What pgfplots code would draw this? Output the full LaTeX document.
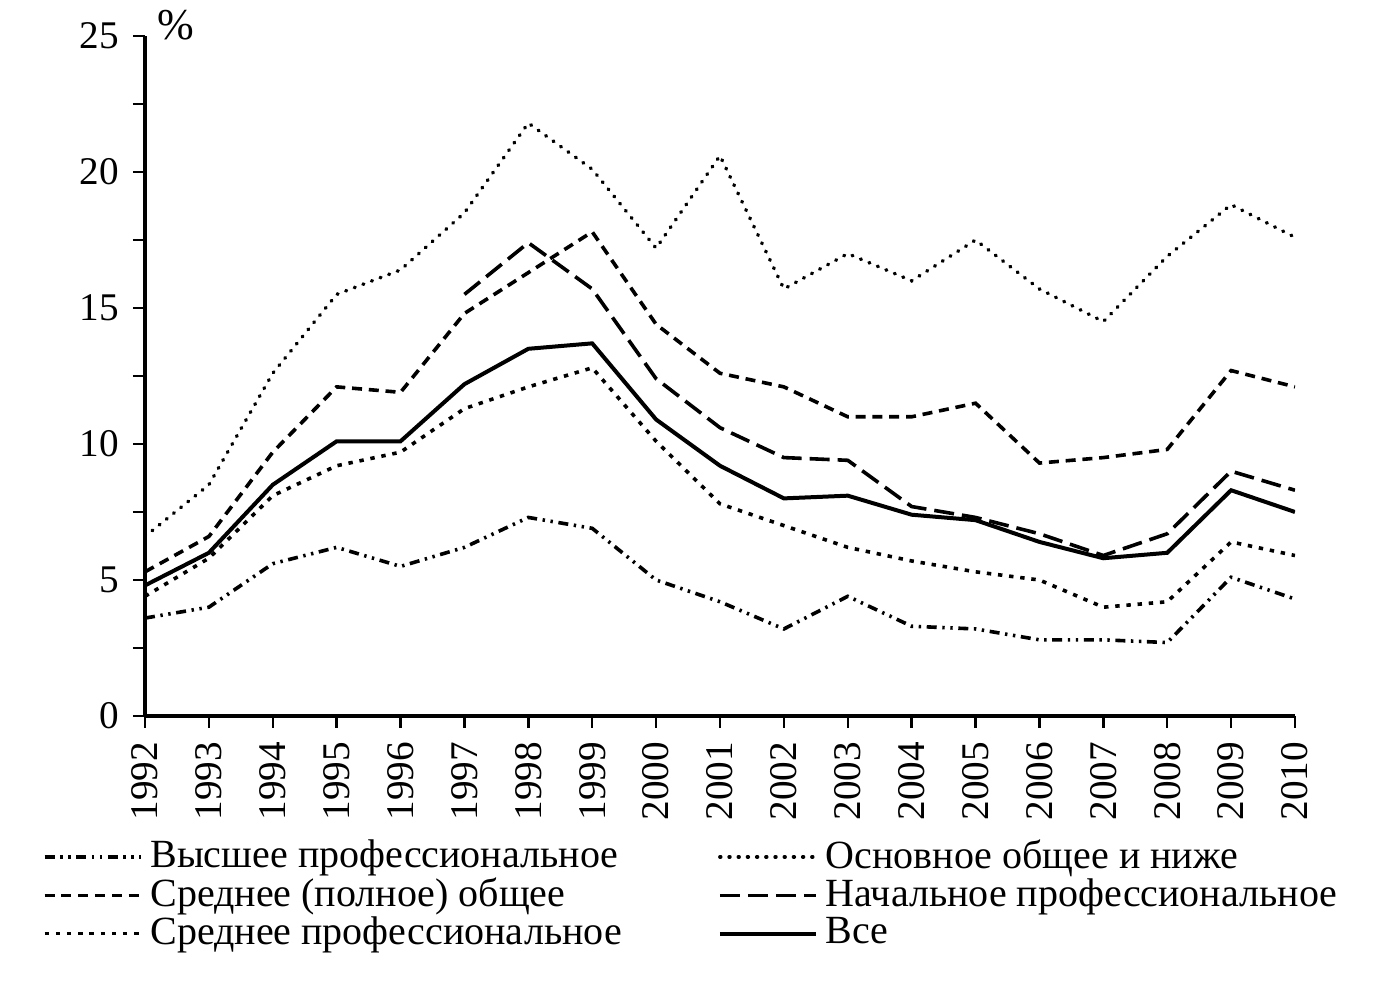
\documentclass[border=0pt]{standalone}
\usepackage{pgfplots}
\pgfplotsset{compat=1.18}
\usepackage{pgfplotstable}
\usepackage{fontspec}
\setmainfont{Liberation Serif}
\pgfplotstableread{
year vys osn spo nach sprof vse
1992 3.6 6.6 5.3 nan 4.4 4.8
1993 4.0 8.5 6.6 nan 5.8 6.0
1994 5.6 12.6 9.7 nan 8.1 8.5
1995 6.2 15.5 12.1 nan 9.2 10.1
1996 5.5 16.4 11.9 nan 9.7 10.1
1997 6.2 18.5 14.8 15.5 11.3 12.2
1998 7.3 21.8 16.3 17.4 12.1 13.5
1999 6.9 20.1 17.8 15.7 12.8 13.7
2000 5.0 17.2 14.4 12.4 10.1 10.9
2001 4.2 20.6 12.6 10.6 7.8 9.2
2002 3.2 15.7 12.1 9.5 7.0 8.0
2003 4.4 17.0 11.0 9.4 6.2 8.1
2004 3.3 16.0 11.0 7.7 5.7 7.4
2005 3.2 17.5 11.5 7.3 5.3 7.2
2006 2.8 15.7 9.3 6.7 5.0 6.4
2007 2.8 14.5 9.5 5.9 4.0 5.8
2008 2.7 16.9 9.8 6.7 4.2 6.0
2009 5.1 18.8 12.7 9.0 6.4 8.3
2010 4.3 17.6 12.1 8.3 5.9 7.5
}\data
\begin{document}
\begin{tikzpicture}
\begin{axis}[name=ax, scale only axis, width=287.5pt, height=170pt,
  xmin=1992, xmax=2010, ymin=0, ymax=25,
  axis lines*=left,
  xtick={1992,1993,...,2010}, ytick={0,5,...,25},
  minor ytick={2.5,7.5,...,22.5},
  tick align=outside, major tick length=3pt, minor tick length=3pt,
  every tick/.style={black, line width=0.6pt},
  axis line style={line width=0.8pt},
  /pgf/number format/assume math mode=true,
  /pgf/number format/1000 sep={},
  xticklabel style={rotate=90, anchor=east, font=\fontsize{9.8}{11}\selectfont},
  yticklabel style={font=\fontsize{9.8}{11}\selectfont},
  unbounded coords=jump,
  legend columns=2,
  legend cell align=left,
  legend style={at={(-0.1,-0.157)}, anchor=north west, draw=none,
    font=\fontsize{10}{11}\selectfont,
    /tikz/column 2/.style={column sep=22pt},
    row sep=-3pt},
  legend image code/.code={\draw[#1] (0pt,0pt) -- (24pt,0pt);},
  every axis plot/.append style={black, line width=0.9pt},
]
\addplot[dash pattern=on 2.5pt off 1.4pt on 0.6pt off 1.4pt on 0.6pt off 1.4pt] table[x=year,y=vys]{\data};
\addlegendentry{Высшее профессиональное}
\addplot[line width=0.9pt, line cap=round, dash pattern=on 0.2pt off 2.1pt] table[x=year,y=osn]{\data};
\addlegendentry{Основное общее и ниже}
\addplot[dash pattern=on 2.5pt off 1.7pt] table[x=year,y=spo]{\data};
\addlegendentry{Среднее (полное) общее}
\addplot[dash pattern=on 5pt off 2pt] table[x=year,y=nach]{\data};
\addlegendentry{Начальное профессиональное}
\addplot[dash pattern=on 1.1pt off 1.7pt] table[x=year,y=sprof]{\data};
\addlegendentry{Среднее профессиональное}
\addplot[line width=1pt] table[x=year,y=vse]{\data};
\addlegendentry{Все}
\end{axis}
\node[anchor=base west, inner sep=0pt, font=\fontsize{11}{12}\selectfont] at ([xshift=3pt,yshift=-1pt]ax.north west) {\%};
\pgfresetboundingbox
\path ([xshift=-36.25pt,yshift=-67pt]ax.south west) rectangle ([xshift=24.5pt,yshift=9pt]ax.north east);
\end{tikzpicture}
\end{document}
